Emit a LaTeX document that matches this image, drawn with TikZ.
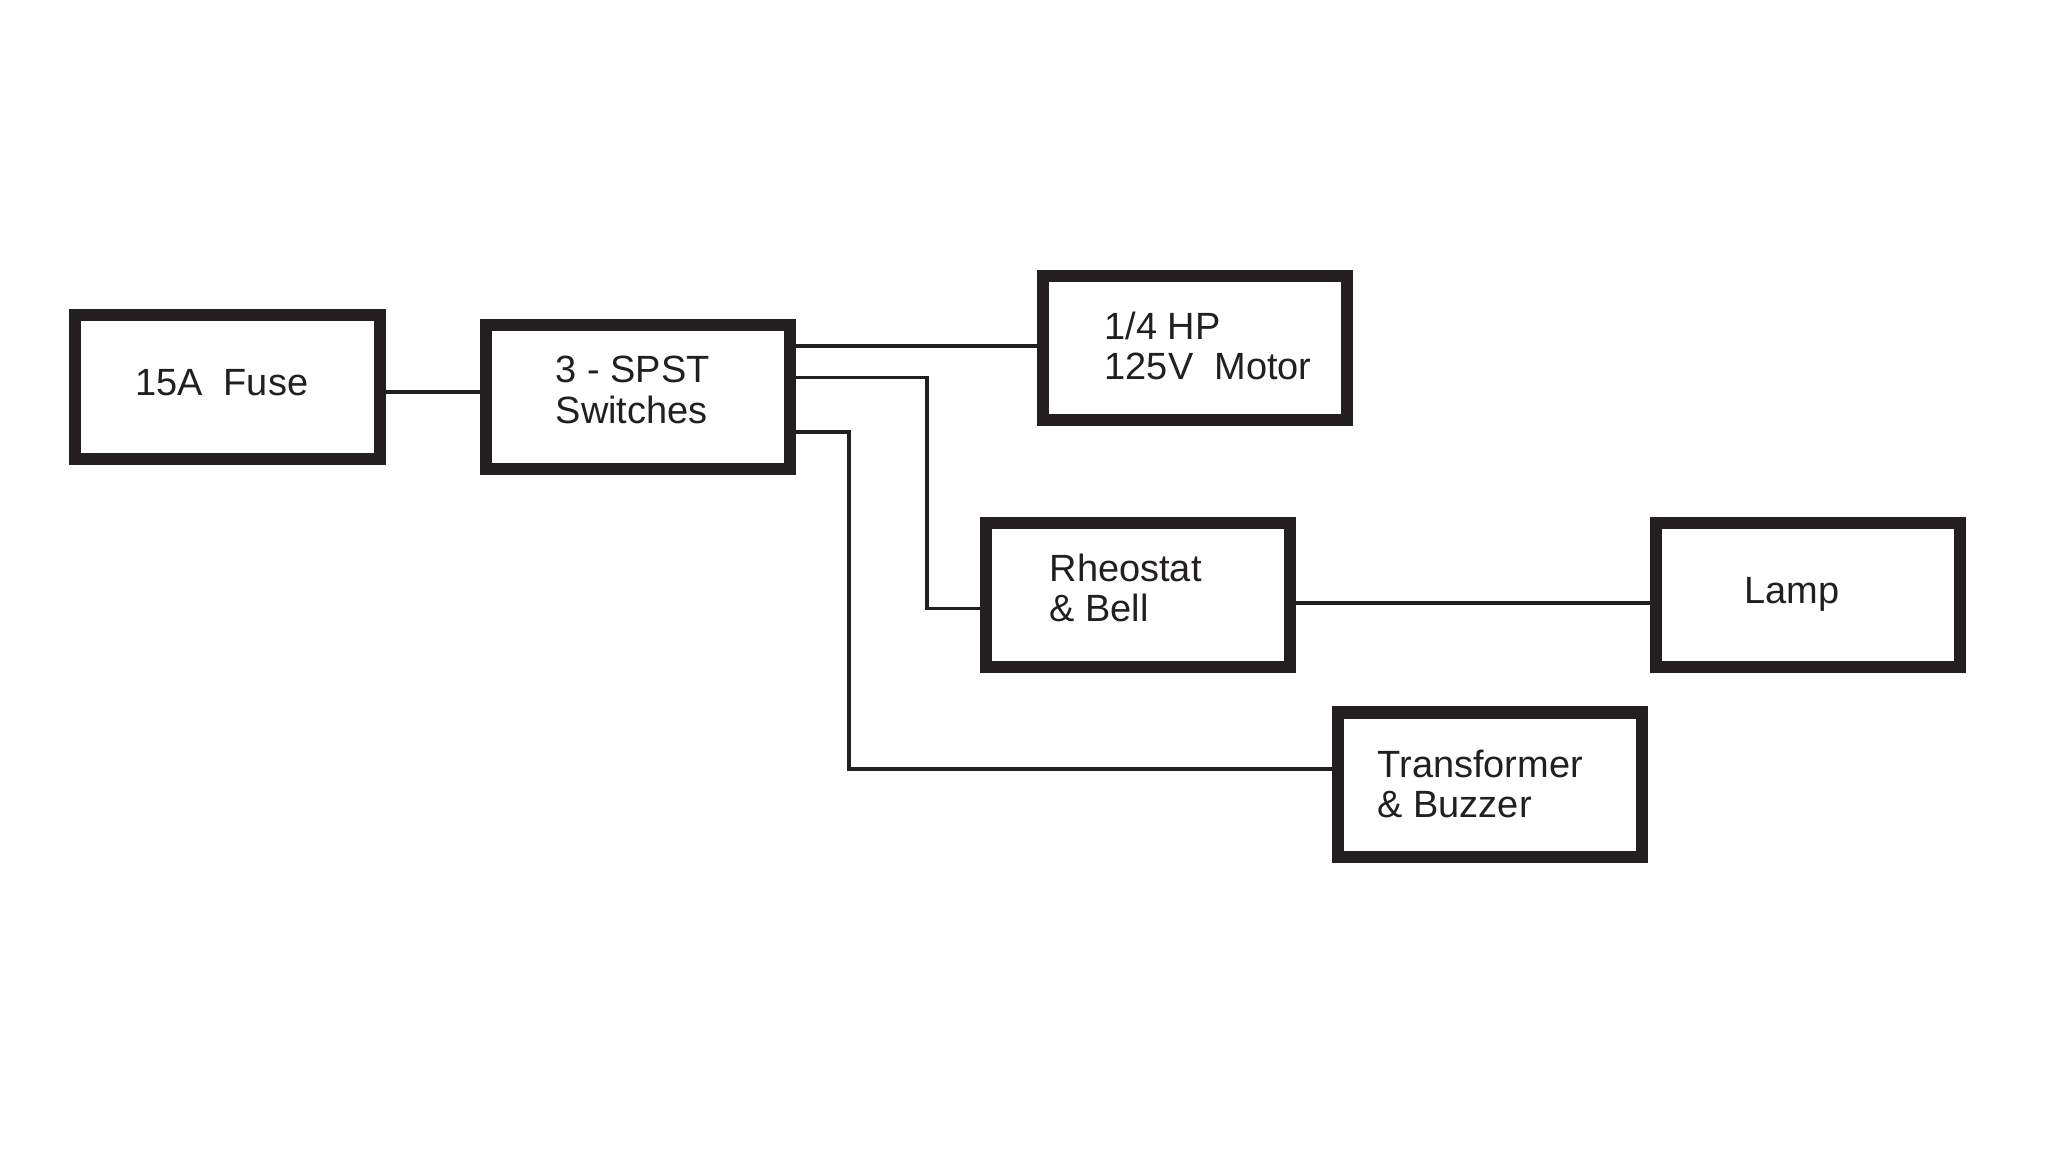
\documentclass[tikz,border=0pt]{standalone}
\usepackage{fontspec}
\setmainfont{Liberation Sans}
\definecolor{ink}{HTML}{231F20}
\begin{document}
\begin{tikzpicture}[
  x=1cm, y=-1cm,
  box/.style={draw=ink, line width=0.08cm, minimum width=3.0cm, minimum height=1.4cm, inner sep=0pt, fill=white},
  lbl/.style={anchor=west, align=left, inner sep=0pt, text=ink, font=\fontsize{10.8}{11.6}\selectfont},
  wire/.style={draw=ink, line width=0.034cm}
]
\useasboundingbox (0,0) rectangle (20.48,11.52);

% boxes
\node[box] (fuse)  at (2.275,3.875) {};
\node[box] (sw)    at (6.38,3.97) {};
\node[box] (motor) at (11.95,3.48) {};
\node[box] (rheo)  at (11.375,5.955) {};
\node[box] (lamp)  at (18.08,5.955) {};
\node[box] (trans) at (14.895,7.845) {};

% labels
\node[lbl] (tfuse)  at (1.345,3.83) {15A\ \ Fuse};
\node[lbl] (tsw)    at (5.55,3.90) {3 - SPST\\Switches};
\node[lbl] (tmotor) at (11.04,3.46) {1/4 HP\\125V\ \ Motor};
\node[lbl] (trheo)  at (10.49,5.88) {Rheostat\\\& Bell};
\node[lbl] (tlamp)  at (17.44,5.94) {Lamp};
\node[lbl] (ttrans) at (13.77,7.84) {Transformer\\\& Buzzer};

% junction coordinates
\coordinate (c1) at (9.27,3.775);
\coordinate (c2) at (9.27,6.085);
\coordinate (c3) at (8.49,4.32);
\coordinate (c4) at (8.49,7.69);

% connectors
\draw[wire] (fuse.east |- 0,3.92) -- (sw.west |- 0,3.92);
\draw[wire] (sw.east |- 0,3.46) -- (motor.west |- 0,3.46);
\draw[wire] (sw.east |- c1) -- (c1) -- (c2) -- (rheo.west |- c2);
\draw[wire] (sw.east |- c3) -- (c3) -- (c4) -- (trans.west |- c4);
\draw[wire] (rheo.east |- 0,6.03) -- (lamp.west |- 0,6.03);

% redraw box outlines on top of wire ends
\foreach \n in {fuse,sw,motor,rheo,lamp,trans}{
  \draw[draw=ink, line width=0.08cm] (\n.south west) rectangle (\n.north east);
}
\end{tikzpicture}
\end{document}
